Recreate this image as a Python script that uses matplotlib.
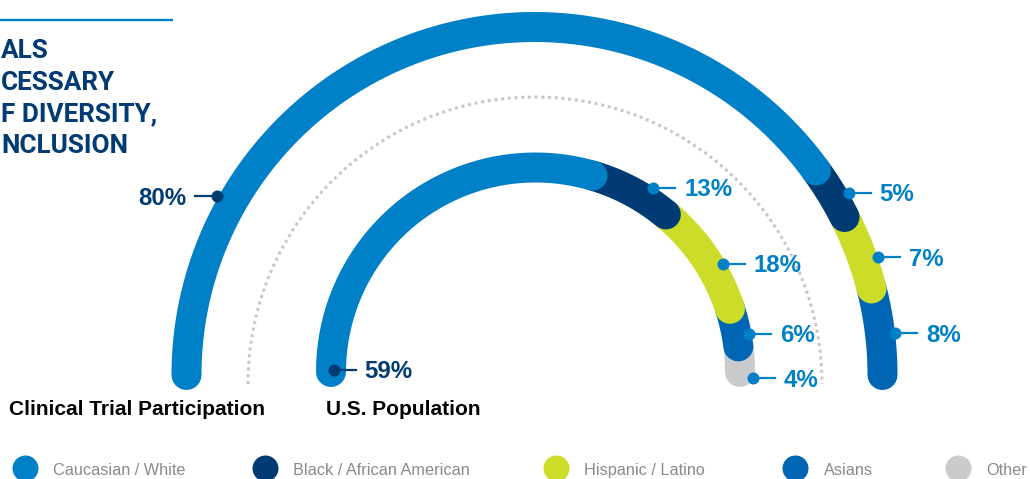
import numpy as np
import matplotlib
matplotlib.use("Agg")
import matplotlib.pyplot as plt

# ── data ───────────────────────────────
groups = ["Caucasian / White", "Black / African American", "Hispanic / Latino", "Asians", "Other"]
colors = ["#0080c6", "#003b73", "#cddc29", "#0066b3", "#cbcbcb"]

trial_pct = [80, 5, 7, 8]          # Clinical Trial Participation
us_pct    = [59, 13, 18, 6, 4]     # U.S. Population

title_lines = ["ALS", "CESSARY", "F DIVERSITY,", "NCLUSION"]

# ── layout (pixels, y down) ────────────
W, H = 1030, 479
outer = dict(cx=534.5, cy=375, r=348)
inner = dict(cx=535.5, cy=372, r=204.5)
dotted = dict(cx=535, cy=384, r=287)
stroke_px = 30
pt = 72 / 100  # px -> pt at dpi 100

# where each label dot sits: (angle deg, radial offset px)
outer_lab = [(150.6, 16), (30.1, 15), (18.9, 15), (6.6, 15)]
inner_lab = [(179.4, -2.5), (57.4, 14), (30.0, 12), (10.2, 12.5), (-1.7, 13)]

NAVY = "#003b73"
BLUE = "#0080c6"

fig = plt.figure(figsize=(W / 100, H / 100), dpi=100)
ax = fig.add_axes([0, 0, 1, 1])
ax.set_xlim(0, W)
ax.set_ylim(H, 0)
ax.axis("off")


def pos(arc, ang, dr=0):
    a = np.radians(ang)
    r = arc["r"] + dr
    return arc["cx"] + r * np.cos(a), arc["cy"] - r * np.sin(a)


def draw_ring(arc, pcts):
    # segments go clockwise from the left end; earlier ones sit on top
    start = 180.0
    for i, p in enumerate(pcts):
        end = start - p / 100 * 180
        t = np.linspace(start, end, 200)
        x, y = pos(arc, t)
        ax.plot(x, y, color=colors[i], lw=stroke_px * pt,
                solid_capstyle="round", zorder=10 - i)
        start = end


def label(arc, ang, dr, txt, left=False, dark=False):
    c = NAVY if dark else BLUE
    x, y = pos(arc, ang, dr)
    sgn = -1 if left else 1
    ax.plot([x, x + sgn * 22], [y, y], color=c, lw=1.6, zorder=20)
    ax.plot(x, y, "o", ms=12 * pt, color=c, mec="none", zorder=21)
    ax.text(x + sgn * 31, y + 8.5, txt, ha="right" if left else "left", va="baseline",
            color=c, fontsize=17.3, fontweight="bold", family="Liberation Sans", zorder=22)


# dotted guide arc
t = np.linspace(180, 0, 400)
dx, dy = pos(dotted, t)
ax.plot(dx, dy, color="#c8c8c8", lw=2.2, linestyle=(0, (1, 1.2)),
        dash_capstyle="butt", zorder=1)

draw_ring(outer, trial_pct)
draw_ring(inner, us_pct)

for i, v in enumerate(trial_pct):
    ang, dr = outer_lab[i]
    label(outer, ang, dr, f"{v}%", left=(i == 0), dark=(i == 0))
for i, v in enumerate(us_pct):
    ang, dr = inner_lab[i]
    label(inner, ang, dr, f"{v}%", dark=(i == 0))

# title fragment (page cut at left edge)
ax.plot([0, 173], [20, 20], color=BLUE, lw=1.7, solid_capstyle="butt")
for j, s in enumerate(title_lines):
    ax.text(1, 58 + j * 31.7, s, ha="left", va="baseline", color=NAVY,
            fontsize=18.8, fontweight="bold", family="Roboto")

# ring captions
ax.text(9, 415, "Clinical Trial Participation", ha="left", va="baseline",
        fontsize=15, fontweight="bold", family="Liberation Sans", color="black")
ax.text(326, 415, "U.S. Population", ha="left", va="baseline",
        fontsize=15, fontweight="bold", family="Liberation Sans", color="black")

# legend
leg_x = [24.5, 264.5, 555.5, 795, 957.5]
for i, g in enumerate(groups):
    ax.plot(leg_x[i], 467.5, "o", ms=26 * pt, color=colors[i], mec="none", clip_on=False)
    ax.text(leg_x[i] + 28.5, 475, g, ha="left", va="baseline", color="#8a8a8a",
            fontsize=11.7, family="Liberation Sans")

fig.savefig("out.png", dpi=100)
